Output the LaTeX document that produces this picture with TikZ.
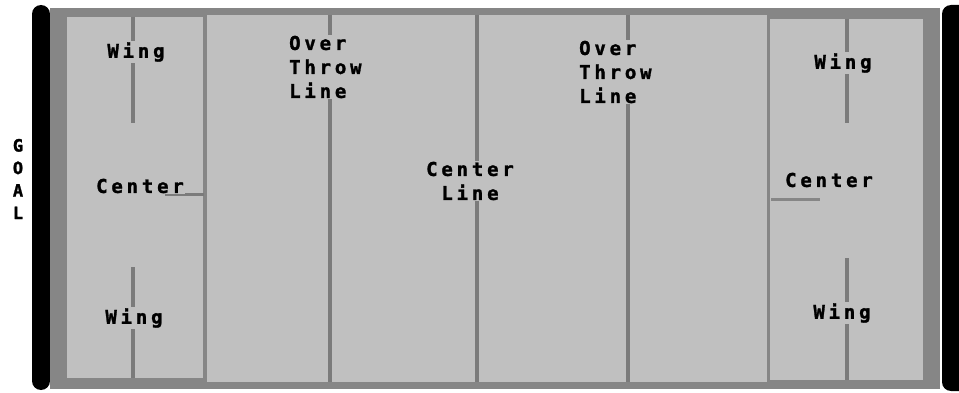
\documentclass[tikz,border=0pt]{standalone}
\usepackage{fontspec}
\newfontfamily\pixfont[LetterSpace=20,FakeBold=1.5]{DejaVu Sans Mono}
\definecolor{court}{HTML}{C0C0C0}
\definecolor{band}{HTML}{868686}
\definecolor{mark}{HTML}{7B7B7B}
\begin{document}
\begin{tikzpicture}[x=1pt,y=-1pt,
  lbl/.style={fill=court,inner sep=1pt,font=\pixfont\bfseries\fontsize{19}{24}\selectfont,align=left},
  markline/.style={draw=mark,line width=4.5pt}]
\useasboundingbox (0,0) rectangle (959,393);
% goals
\fill[black,rounded corners=9pt] (32,5) rectangle (50,390);
\fill[black,rounded corners=9pt] (942,5) rectangle (968,391);
% pool and zones
\fill[band] (50,8) rectangle (940,389);
\fill[court] (67,17) rectangle (203,378);
\fill[court] (207,15) rectangle (767,382);
\fill[court] (770,19) rectangle (923,380);
% over throw lines and center line
\draw[markline] (330,15) -- (330,382);
\draw[markline] (477,15) -- (477,382);
\draw[markline] (628,15) -- (628,382);
% wing and center marks
\draw[markline] (133,17) -- (133,123);
\draw[markline] (133,267) -- (133,378);
\draw[markline,line width=3pt] (165,195) -- (204,195);
\draw[markline] (847,19) -- (847,123);
\draw[markline] (847,258) -- (847,380);
\draw[markline,line width=3pt,draw=band] (771,200) -- (820,200);
% labels
\node[lbl] (wingTL) at (136,52) {Wing};
\node[lbl] (centerL) at (140,186) {Center};
\node[lbl] (wingBL) at (134,318) {Wing};
\node[lbl,anchor=west] (overL) at (288,67) {Over\\Throw\\Line};
\node[lbl,align=center] (centerLine) at (470,181) {Center\\Line};
\node[lbl,anchor=west] (overR) at (578,72) {Over\\Throw\\Line};
\node[lbl] (wingTR) at (843,63) {Wing};
\node[lbl] (centerR) at (829,180) {Center};
\node[lbl] (wingBR) at (842,313) {Wing};
\node[font=\pixfont\bfseries\fontsize{17}{22.5}\selectfont,align=center,inner sep=0pt] (goal) at (18,179) {G\\O\\A\\L};
\end{tikzpicture}
\end{document}
